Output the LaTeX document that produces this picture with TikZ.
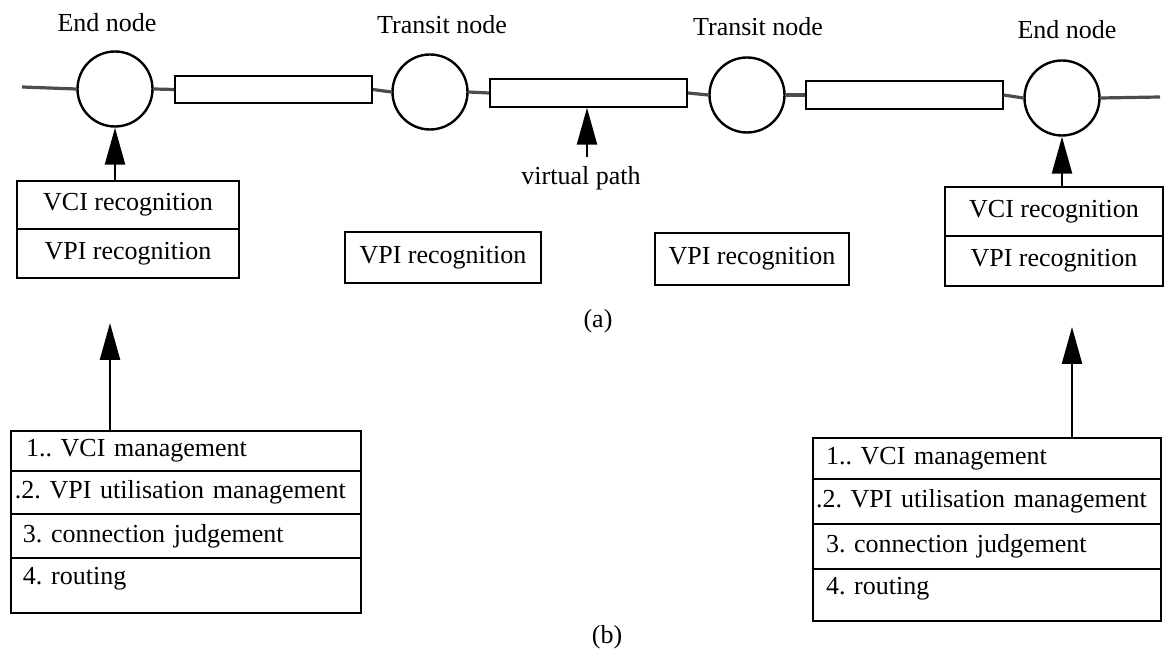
\documentclass[tikz,border=0pt]{standalone}
\usepackage{fontspec}
\setmainfont{Liberation Serif}
\usetikzlibrary{arrows.meta}
\frenchspacing
\begin{document}
\begin{tikzpicture}[x=0.5pt,y=-0.5pt,
  every node/.style={font=\fontsize{13}{15.6}\selectfont\frenchspacing},
  nodecirc/.style={draw, line width=1.2pt, circle, minimum size=37.5pt, inner sep=0pt},
  vpbox/.style={draw, line width=1pt, rectangle, minimum width=98.5pt, minimum height=13.75pt, inner sep=0pt},
  link/.style={line width=1.6pt, draw=black!70},
  recog/.style={draw, line width=1pt, rectangle, inner sep=0pt, anchor=north west},
  cell/.style={draw, line width=1pt, rectangle, inner ysep=0pt, align=left, anchor=north west},
  bigarrow/.style={line width=1.2pt, -{Triangle[length=18.5pt,width=10pt]}},
  lbl/.style={inner sep=0pt}
]
\useasboundingbox (0,0) rectangle (1169,656);

% top labels
\node[lbl] (lEnd1) at (107,23) {End node};
\node[lbl] (lTr1) at (442,25) {Transit node};
\node[lbl] (lTr2) at (758,27) {Transit node};
\node[lbl] (lEnd2) at (1067,30) {End node};

% network nodes
\node[nodecirc] (c1) at (115,89) {};
\node[nodecirc] (c2) at (430,92) {};
\node[nodecirc] (c3) at (747,95) {};
\node[nodecirc] (c4) at (1062,98) {};

\node[vpbox] (r1) at (273.5,89.5) {};
\node[vpbox] (r2) at (588.5,93) {};
\node[vpbox] (r3) at (904,95) {};

\coordinate (lineL) at (22,87);
\coordinate (lineR) at (1160,97);

\draw[link] (lineL) -- (c1.west);
\draw[link] (c1.east) -- (r1.west);
\draw[link] (r1.east) -- (c2.west);
\draw[link] (c2.east) -- (r2.west);
\draw[link] (r2.east) -- (c3.west);
\draw[link] (c3.east) -- (r3.west);
\draw[link] (r3.east) -- (c4.west);
\draw[link] (c4.east) -- (lineR);

% virtual path
\coordinate (vpfoot) at (587,157);
\draw[bigarrow] (vpfoot) -- (vpfoot |- r2.south);
\node[lbl] (vplabel) at (581,178) {virtual path};

% recognition boxes
\node[recog, minimum width=111pt, minimum height=24pt] (vciL) at (16,180) {VCI recognition};
\node[recog, minimum width=111pt, minimum height=24.5pt] (vpiL) at (16,228) {VPI recognition};
\node[recog, minimum width=98pt, minimum height=25.5pt] (vpiM1) at (344,231) {VPI recognition};
\node[recog, minimum width=97pt, minimum height=26pt] (vpiM2) at (654,232) {VPI recognition};
\node[recog, minimum width=109pt, minimum height=24.5pt] (vciR) at (944,186) {VCI recognition};
\node[recog, minimum width=109pt, minimum height=25pt] (vpiR) at (944,235) {VPI recognition};

\draw[bigarrow] (c1.south |- vciL.north) -- (c1.south);
\draw[bigarrow] (c4.south |- vciR.north) -- (c4.south);

\node[lbl] (capA) at (598,321) {(a)};

% management boxes, left
\node[cell, inner xsep=7.5pt, text width=160pt, minimum height=20pt] (mL1) at (10,430) {1.. VCI management};
\node[cell, inner xsep=2pt, text width=171pt, minimum height=21.5pt] (mL2) at (10,470) {.2. VPI utilisation management};
\node[cell, inner xsep=6pt, text width=163pt, minimum height=22pt] (mL3) at (10,513) {3. connection judgement};
\node[cell, inner xsep=6pt, text width=163pt, minimum height=27.5pt, text depth=10pt] (mL4) at (10,557) {4. routing};

% management boxes, right
\node[cell, inner xsep=6.5pt, text width=161pt, minimum height=20.5pt] (mR1) at (812,437) {1.. VCI management};
\node[cell, inner xsep=1.5pt, text width=171pt, minimum height=22.5pt] (mR2) at (812,478) {.2. VPI utilisation management};
\node[cell, inner xsep=6.5pt, text width=161pt, minimum height=22.5pt] (mR3) at (812,523) {3. connection judgement};
\node[cell, inner xsep=6.5pt, text width=161pt, minimum height=26pt, text depth=9pt] (mR4) at (812,568) {4. routing};

\coordinate (tipL) at (110,323);
\coordinate (tipR) at (1072,327);
\draw[bigarrow] (tipL |- mL1.north) -- (tipL);
\draw[bigarrow] (tipR |- mR1.north) -- (tipR);

\node[lbl] (capB) at (607,637) {(b)};
\end{tikzpicture}
\end{document}
